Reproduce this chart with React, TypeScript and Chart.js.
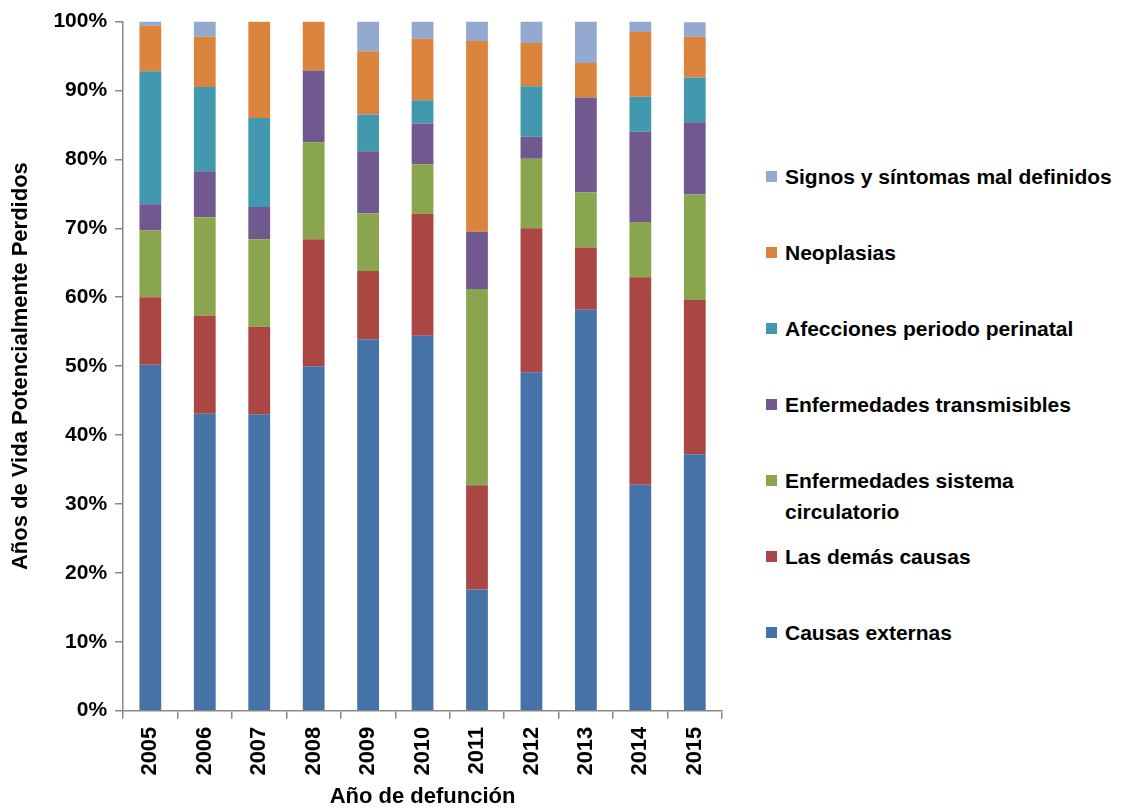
import React, { useEffect, useRef } from "react";
import { Chart, registerables } from "chart.js";

Chart.register(...registerables);

const years = ["2005", "2006", "2007", "2008", "2009", "2010", "2011", "2012", "2013", "2014", "2015"];

const causasExternas = [50.2, 43.1, 43.0, 50.0, 53.9, 54.4, 17.6, 49.1, 58.2, 32.8, 37.2];
const lasDemasCausas = [9.8, 14.2, 12.7, 18.4, 9.9, 17.7, 15.1, 20.9, 9.0, 30.1, 22.4];
const enfCirculatorio = [9.7, 14.3, 12.7, 14.1, 8.4, 7.2, 28.5, 10.1, 8.0, 8.0, 15.3];
const enfTransmisibles = [3.8, 6.7, 4.7, 10.4, 9.0, 5.9, 8.3, 3.2, 13.8, 13.1, 10.5];
const perinatal = [19.3, 12.2, 12.9, 0, 5.3, 3.4, 0, 7.3, 0, 5.1, 6.5];
const neoplasias = [6.6, 7.3, 14.0, 7.1, 9.2, 8.9, 27.7, 6.3, 5.0, 9.4, 5.9];
const signos = [0.6, 2.2, 0, 0, 4.3, 2.5, 2.8, 3.1, 6.0, 1.5, 2.1];

const yTicks = [0, 10, 20, 30, 40, 50, 60, 70, 80, 90, 100];

const seriesNames = [
  "Causas externas",
  "Las demás causas",
  "Enfermedades sistema circulatorio",
  "Enfermedades transmisibles",
  "Afecciones periodo perinatal",
  "Neoplasias",
  "Signos y síntomas mal definidos",
];
const seriesColors = ["#4572A7", "#AA4643", "#89A54E", "#71588F", "#4198AF", "#DB843D", "#93A9CF"];
const seriesData = [causasExternas, lasDemasCausas, enfCirculatorio, enfTransmisibles, perinatal, neoplasias, signos];

const legendLines: string[][] = [
  ["Signos y síntomas mal definidos"],
  ["Neoplasias"],
  ["Afecciones periodo perinatal"],
  ["Enfermedades transmisibles"],
  ["Enfermedades sistema", "circulatorio"],
  ["Las demás causas"],
  ["Causas externas"],
];
const legendColors = ["#93A9CF", "#DB843D", "#4198AF", "#71588F", "#89A54E", "#AA4643", "#4572A7"];

const FONT = "'Liberation Sans', Arial, sans-serif";

export default function App() {
  const ref = useRef<HTMLCanvasElement>(null);
  useEffect(() => {
    if (!ref.current) return;
    const chart = new Chart(ref.current, {
      type: "bar",
      data: {
        labels: years,
        datasets: seriesData.map((d, i) => ({
          label: seriesNames[i],
          data: d,
          backgroundColor: seriesColors[i],
          borderWidth: 0,
          barPercentage: 0.8,
          categoryPercentage: 0.5,
        })),
      },
      options: {
        animation: false,
        responsive: false,
        maintainAspectRatio: false,
        layout: { padding: { top: 0, right: 16, left: 0, bottom: 0 } },
        plugins: {
          legend: { display: false },
          tooltip: { enabled: false },
        },
        scales: {
          x: {
            stacked: true,
            grid: {
              offset: true,
              drawOnChartArea: false,
              drawTicks: true,
              tickLength: 8,
              color: "#888888",
              lineWidth: 1.5,
            },
            border: { color: "#888888", width: 1.5 },
            ticks: {
              minRotation: 90,
              maxRotation: 90,
              padding: 8,
              color: "#000",
              font: { family: FONT, size: 22, weight: "bold" },
            },
            title: {
              display: true,
              text: "Año de defunción",
              color: "#000",
              padding: { top: 0, bottom: 0 },
              font: { family: FONT, size: 22, weight: "bold" },
            },
          },
          y: {
            stacked: true,
            min: 0,
            max: 100,
            afterBuildTicks: (axis: any) => {
              axis.ticks = yTicks.map((v) => ({ value: v }));
            },
            grid: {
              drawOnChartArea: false,
              drawTicks: true,
              tickLength: 8,
              color: "#888888",
              lineWidth: 1.5,
            },
            border: { color: "#888888", width: 1.5 },
            ticks: {
              padding: 8,
              color: "#000",
              callback: (v: any) => v + "%",
              font: { family: FONT, size: 21, weight: "bold" },
            },
            title: {
              display: true,
              text: "Años de Vida Potencialmente Perdidos",
              color: "#000",
              padding: { top: 0, bottom: 11 },
              font: { family: FONT, size: 22, weight: "bold" },
            },
          },
        },
      },
    });
    return () => chart.destroy();
  }, []);

  return (
    <div style={{ position: "relative", width: 1116, height: 802, background: "#fff" }}>
      <canvas ref={ref} width={730} height={809} style={{ position: "absolute", left: 0, top: -7 }} />
      {legendLines.map((lines, i) => (
        <div
          key={i}
          style={{
            position: "absolute",
            left: 758,
            top: 153 + i * 76,
            display: "flex",
            alignItems: "flex-start",
            fontFamily: FONT,
            fontWeight: "bold",
            fontSize: 21,
            lineHeight: "31px",
            color: "#000",
            whiteSpace: "nowrap",
          }}
        >
          <div
            style={{
              width: 11,
              height: 11,
              background: legendColors[i],
              marginTop: 10,
              marginRight: 8,
              flex: "none",
            }}
          />
          <div>
            {lines.map((l, j) => (
              <div key={j}>{l}</div>
            ))}
          </div>
        </div>
      ))}
    </div>
  );
}
